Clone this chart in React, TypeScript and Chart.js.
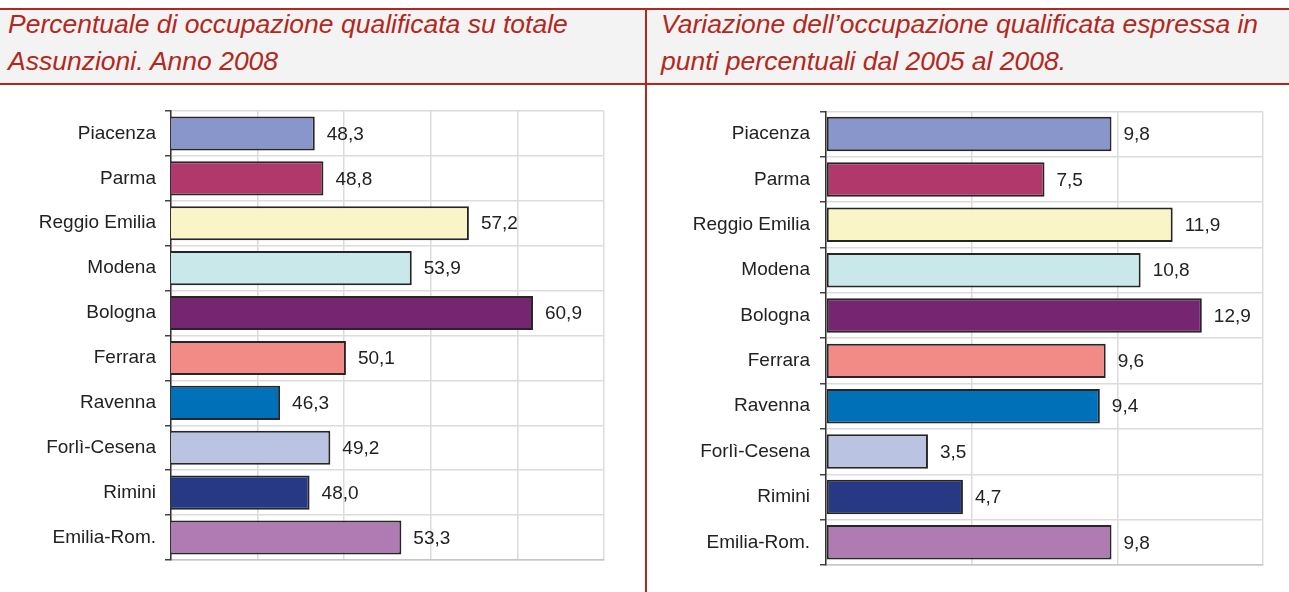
import React, { useEffect, useRef } from "react";
import { Chart, registerables } from "chart.js";

Chart.register(...registerables);

const categories = [
  "Piacenza",
  "Parma",
  "Reggio Emilia",
  "Modena",
  "Bologna",
  "Ferrara",
  "Ravenna",
  "Forlì-Cesena",
  "Rimini",
  "Emilia-Rom.",
];

const share2008 = [48.3, 48.8, 57.2, 53.9, 60.9, 50.1, 46.3, 49.2, 48.0, 53.3];
const change2005to2008 = [9.8, 7.5, 11.9, 10.8, 12.9, 9.6, 9.4, 3.5, 4.7, 9.8];

const barColors = [
  "#8896cc",
  "#b0386b",
  "#faf5c6",
  "#c8e8ea",
  "#762670",
  "#f28a85",
  "#0070b8",
  "#bac4e2",
  "#273985",
  "#b07ab2",
];

const leftTitle = ["Percentuale di occupazione qualificata su totale", "Assunzioni. Anno 2008"];
const rightTitle = [
  "Variazione dell\u2019occupazione qualificata espressa in",
  "punti percentuali dal 2005 al 2008.",
];

const leftAxisRange = [40, 65, 5];
const rightAxisRange = [0, 15, 5];

const RED = "#b2281e";
const FONT = '"Liberation Sans", Arial, sans-serif';

const valueLabels = {
  id: "valueLabels",
  afterDatasetsDraw(chart: any) {
    const ctx = chart.ctx;
    const meta = chart.getDatasetMeta(0);
    const data = chart.data.datasets[0].data as number[];
    ctx.save();
    ctx.font = `19px ${FONT}`;
    ctx.fillStyle = "#222";
    ctx.textBaseline = "middle";
    ctx.textAlign = "left";
    meta.data.forEach((bar: any, i: number) => {
      ctx.fillText(data[i].toFixed(1).replace(".", ","), bar.x + 12, bar.y + 1);
    });
    ctx.restore();
  },
};

type PanelProps = {
  values: number[];
  range: number[];
  left: number;
  width: number;
  axisWidth: number;
  padRight: number;
  padBottom: number;
  labelPad: number;
};

function BarPanel({ values, range, left, width, axisWidth, padRight, padBottom, labelPad }: PanelProps) {
  const ref = useRef<HTMLCanvasElement | null>(null);
  useEffect(() => {
    if (!ref.current) return;
    const chart = new Chart(ref.current, {
      type: "bar",
      data: {
        labels: categories,
        datasets: [
          {
            data: values,
            backgroundColor: barColors,
            borderColor: "#262626",
            borderWidth: 2,
            borderSkipped: false,
            barPercentage: 0.76,
            categoryPercentage: 1,
          },
        ],
      },
      options: {
        indexAxis: "y",
        responsive: false,
        animation: false,
        devicePixelRatio: 1,
        layout: { padding: { top: 21, right: padRight, bottom: padBottom, left: 0 } },
        plugins: { legend: { display: false }, tooltip: { enabled: false }, title: { display: false } },
        scales: {
          x: {
            min: range[0],
            max: range[1],
            ticks: { display: false, stepSize: range[2] },
            grid: { color: "#dcdcdc", lineWidth: 1.5, drawTicks: false },
            border: { color: "#c6c6c6", width: 1.5 },
            afterFit: (s: any) => {
              s.height = 0;
            },
          },
          y: {
            ticks: {
              color: "#222",
              font: { family: FONT, size: 19 },
              padding: labelPad,
              autoSkip: false,
            },
            grid: {
              color: "#dcdcdc",
              lineWidth: 1.5,
              tickColor: "#444",
              tickLength: 6,
              tickWidth: 1.5,
            },
            border: { color: "#333", width: 1.5 },
            afterFit: (s: any) => {
              s.width = axisWidth;
            },
          },
        },
      } as any,
      plugins: [valueLabels],
    });
    return () => chart.destroy();
  }, []);
  return (
    <canvas
      ref={ref}
      width={width}
      height={502}
      style={{ position: "absolute", left, top: 90, width, height: 502 }}
    />
  );
}

const titleStyle: React.CSSProperties = {
  position: "absolute",
  top: 6,
  fontFamily: FONT,
  fontStyle: "italic",
  fontSize: 26.5,
  lineHeight: "36.5px",
  color: RED,
  whiteSpace: "nowrap",
};

export default function App() {
  return (
    <div
      style={{
        position: "fixed",
        left: 0,
        top: 0,
        width: 1289,
        height: 592,
        background: "#fff",
        overflow: "hidden",
      }}
    >
      <div
        style={{
          position: "absolute",
          left: 0,
          top: 8,
          width: 1289,
          height: 73,
          background: "#f2f3f2",
          borderTop: `2px solid ${RED}`,
          borderBottom: `2px solid ${RED}`,
        }}
      />
      <div
        style={{ position: "absolute", left: 645, top: 8, width: 2, height: 584, background: RED }}
      />
      <div style={{ ...titleStyle, left: 8 }}>
        {leftTitle[0]}
        <br />
        {leftTitle[1]}
      </div>
      <div style={{ ...titleStyle, left: 661 }}>
        {rightTitle[0]}
        <br />
        {rightTitle[1]}
      </div>
      <BarPanel
        values={share2008}
        range={leftAxisRange}
        left={0}
        width={640}
        axisWidth={171}
        padRight={36}
        padBottom={32}
        labelPad={9}
      />
      <BarPanel
        values={change2005to2008}
        range={rightAxisRange}
        left={650}
        width={639}
        axisWidth={176}
        padRight={26}
        padBottom={27}
        labelPad={10}
      />
    </div>
  );
}
